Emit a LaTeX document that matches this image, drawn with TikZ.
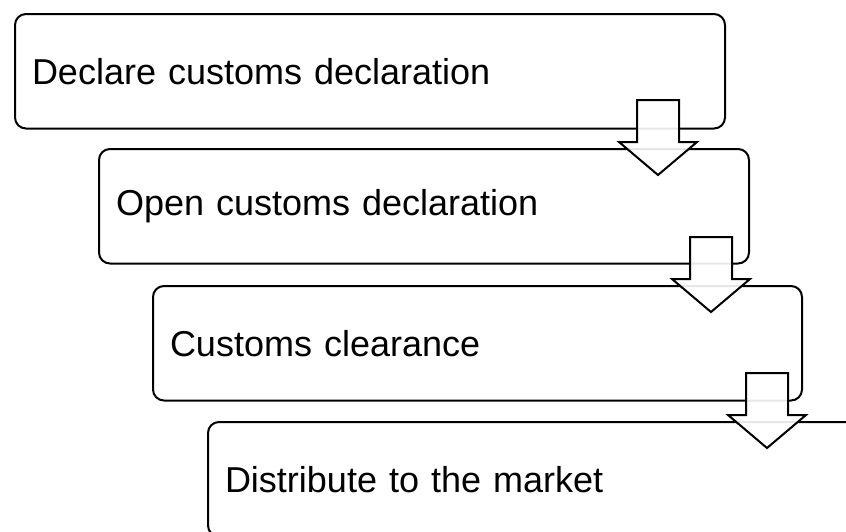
\documentclass[tikz,border=0pt]{standalone}
\usepackage{fontspec}
\setmainfont{Liberation Sans}
\usetikzlibrary{positioning,calc}

\tikzset{
  stepbox/.style={draw, line width=2pt, rounded corners=11pt, anchor=north west,
    minimum height=114.5pt, inner xsep=17pt, text width=#1, align=left,
    font=\fontsize{36}{43}\selectfont},
  blockarrow/.style={draw, line width=2pt, fill=white, fill opacity=0.9, line join=miter}
}
% block arrow pointing down, tip at #1
\newcommand{\downblock}[1]{%
  \draw[blockarrow] (#1) ++(-21,75) -- ++(42,0) -- ++(0,-42) -- ++(18,0) -- (#1)
    -- ++(-39,33) -- ++(18,0) -- cycle;}

\begin{document}
\begin{tikzpicture}[x=1pt,y=1pt]
    \useasboundingbox (0,0) rectangle (846,-531);
    \clip (0,0) rectangle (846,-531);

    % the four steps
    \node[stepbox=676pt] (decl) at (14,-13) {Declare customs declaration};
    \node[stepbox=616pt] (open) at (98,-148) {Open customs declaration};
    \node[stepbox=615pt] (clear) at (152,-285) {Customs clearance};
    \node[stepbox=616pt] (market) at (207,-421) {Distribute to the market};

    % arrows between the steps
    \coordinate (t1) at ($(open.north east)+(-92,-27)$);
    \coordinate (t2) at ($(clear.north east)+(-92,-27)$);
    \coordinate (t3) at ($(market.north east)+(-92,-27)$);
    \downblock{t1}
    \downblock{t2}
    \downblock{t3}
\end{tikzpicture}
\end{document}
